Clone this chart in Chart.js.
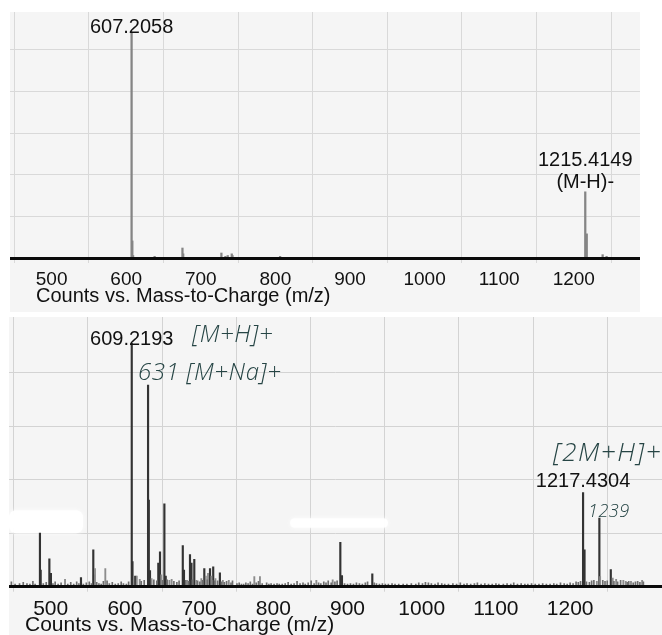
<!DOCTYPE html>
<html>
<head>
<meta charset="utf-8">
<script src="https://cdn.jsdelivr.net/npm/chart.js@4.4.1/dist/chart.umd.min.js"></script>
<style>
  html, body { margin: 0; padding: 0; background: #ffffff; }
  body { width: 662px; height: 635px; position: relative; overflow: hidden; }
  .panel { position: absolute; }
  #negWrap { left: 10px; top: 12px; width: 630px; height: 300px; }
  #posWrap { left: 9px; top: 317px; width: 653px; height: 318px; }
</style>
</head>
<body>
<div class="panel" id="negWrap"><canvas id="negChart"></canvas></div>
<div class="panel" id="posWrap"><canvas id="posChart"></canvas></div>
<script>
// ---- shared axis text ----
const axisCaption = 'Counts vs. Mass-to-Charge (m/z)';

// ---- negative-ion scan (upper trace) ----
const negMz  = [607.2058, 608.2, 609.2, 638.1, 675.4, 676.4, 727.6, 733.0, 736.1, 741.5, 742.5, 806.3, 1215.4149, 1217.4, 1238.7, 1244.0];
const negInt = [5.43,     0.41,  0.06,  0.04,  0.24,  0.10,  0.12,  0.04,  0.06,  0.10,  0.06,  0.04,  1.59,      0.58,   0.08,   0.04];
const negTicks = [500, 600, 700, 800, 900, 1000, 1100, 1200];
const negGridY = [1, 2, 3, 4, 5];

// ---- positive-ion scan (lower trace): strong peaks ----
const posMz  = [485.5, 486.5, 498.2, 500.3, 540.8, 557.4, 558.4, 609.2193, 610.2, 613.9, 631.2, 632.2, 633.8, 645.0, 647.3, 653.2, 655.0, 678.0, 679.6, 687.7, 689.7, 693.5, 707.0, 714.7, 719.0, 728.0, 890.3, 892.5, 933.4, 1217.4304, 1219.4, 1239.4, 1254.8];
const posInt = [1.00,  0.31,  0.52,  0.25,  0.17,  0.69,  0.22,  4.55,     0.47,  0.20,  3.77,  1.62,  0.30,  0.44,  0.65,  1.55,  0.20,  0.77,  0.31,  0.60,  0.44,  0.51,  0.34,  0.34,  0.37,  0.26,  0.83,  0.21,  0.24,  1.76,      0.69,   1.28,   0.32];

// ---- positive-ion scan: minor peaks ----
const minorMz  = [519.3, 559.7, 573.6, 616.0, 620.0, 636.0, 649.0, 660.0, 663.0, 684.0, 696.0, 703.0, 709.0, 712.0, 716.5, 722.0, 732.0, 740.0, 774.4, 782.0, 858.0, 880.0, 1236.0, 1240.4, 1257.4, 1262.0, 1271.7, 1275.0, 1282.0, 1297.0];
const minorInt = [0.14,  0.34,  0.34,  0.20,  0.14,  0.15,  0.22,  0.12,  0.14,  0.12,  0.12,  0.15,  0.20,  0.25,  0.20,  0.15,  0.12,  0.12,  0.19,  0.19,  0.12,  0.13,  0.10,   0.19,   0.16,   0.14,   0.12,   0.10,   0.10,   0.12];

// ---- positive-ion scan: baseline chatter ----
const noiseMz  = [447, 452, 458, 463, 468, 472, 476, 479, 490, 494, 503, 506, 510, 514, 523, 527, 531, 535, 538, 544, 548, 552, 555, 562, 565, 568, 571, 576, 579, 583, 587, 591, 595, 598, 602, 605, 622, 626, 639, 643, 651, 657, 666, 670, 673, 682, 686, 691, 698, 701, 705, 711, 718, 721, 725, 730, 734, 737, 743, 745, 751, 754, 757, 760, 763, 766, 769, 772, 777, 780, 785, 791, 794, 797, 801, 805, 808, 812, 816, 820, 824, 828, 832, 836, 840, 843, 847, 851, 855, 861, 864, 868, 871, 874, 878, 883, 886, 896, 900, 904, 908, 912, 916, 920, 924, 927, 936, 939, 943, 947, 951, 955, 960, 964, 969, 975, 980, 986, 992, 996, 1001, 1005, 1009, 1013, 1018, 1022, 1027, 1031, 1036, 1042, 1047, 1052, 1057, 1061, 1066, 1071, 1075, 1080, 1085, 1090, 1095, 1100, 1104, 1110, 1115, 1120, 1124, 1129, 1134, 1139, 1143, 1148, 1153, 1158, 1163, 1168, 1173, 1178, 1182, 1187, 1192, 1196, 1200, 1204, 1208, 1211, 1214, 1222, 1226, 1229, 1232, 1244, 1247, 1250, 1259, 1264, 1268, 1277, 1279, 1285, 1288, 1291, 1294, 1298.7];
const noiseInt = [0.09, 0.05, 0.06, 0.08, 0.06, 0.05, 0.10, 0.05, 0.06, 0.08, 0.06, 0.09, 0.05, 0.07, 0.05, 0.08, 0.05, 0.09, 0.06, 0.05, 0.07, 0.09, 0.06, 0.08, 0.06, 0.05, 0.10, 0.11, 0.06, 0.08, 0.05, 0.06, 0.09, 0.06, 0.05, 0.09, 0.10, 0.12, 0.13, 0.11, 0.12, 0.13, 0.10, 0.08, 0.11, 0.12, 0.10, 0.13, 0.11, 0.09, 0.12, 0.13, 0.12, 0.11, 0.11, 0.09, 0.08, 0.10, 0.07, 0.11, 0.06, 0.07, 0.05, 0.05, 0.07, 0.06, 0.09, 0.05, 0.07, 0.10, 0.06, 0.07, 0.05, 0.06, 0.05, 0.06, 0.05, 0.05, 0.06, 0.08, 0.05, 0.06, 0.10, 0.06, 0.07, 0.05, 0.07, 0.11, 0.06, 0.07, 0.06, 0.09, 0.07, 0.11, 0.07, 0.09, 0.11, 0.06, 0.05, 0.06, 0.05, 0.07, 0.06, 0.05, 0.07, 0.09, 0.07, 0.06, 0.05, 0.06, 0.05, 0.05, 0.06, 0.05, 0.05, 0.05, 0.05, 0.06, 0.05, 0.07, 0.06, 0.08, 0.07, 0.06, 0.05, 0.07, 0.06, 0.05, 0.05, 0.06, 0.05, 0.07, 0.05, 0.06, 0.05, 0.06, 0.07, 0.05, 0.06, 0.05, 0.05, 0.06, 0.05, 0.05, 0.06, 0.05, 0.07, 0.05, 0.06, 0.05, 0.05, 0.06, 0.05, 0.05, 0.06, 0.05, 0.05, 0.06, 0.05, 0.07, 0.06, 0.05, 0.07, 0.06, 0.09, 0.08, 0.10, 0.09, 0.08, 0.11, 0.12, 0.12, 0.10, 0.11, 0.10, 0.09, 0.12, 0.08, 0.10, 0.07, 0.09, 0.10, 0.08, 0.09];
const posTicks  = [500, 600, 700, 800, 900, 1000, 1100, 1200, 1300];
const posLabels = ['500', '600', '700', '800', '900', '1000', '1100', '1200', ''];
const posGridY  = [1, 2, 3, 4];

// ---- pen notes written onto the positive-ion print-out ----
const notes = [
  { text: '[M+H]+',      mz: 690.4,  at: 4.57, size: 24, spacing: 0.6 },
  { text: '631 [M+Na]+', mz: 617.7,  at: 3.86, size: 24, spacing: 0.6 },
  { text: '[2M+H]+',     mz: 1176.9, at: 2.35, size: 26, spacing: 1.5 },
  { text: '1239',        mz: 1224.1, at: 1.30, size: 18, spacing: 0.5 }
];

// correction-fluid patches on the lower print-out: [mzFrom, mzTo, yFrom, yTo]
const patches = [
  [443.8, 543.5, 1.00, 1.43],
  [822.5, 954.6, 1.10, 1.28]
];

const pts = (mz, v) => mz.map((m, i) => ({ x: m, y: v[i] }));

const panelBg = {
  id: 'panelBg',
  beforeDraw(chart, args, o) {
    const { ctx, width, height } = chart;
    ctx.save();
    ctx.fillStyle = o.color;
    ctx.fillRect(0, 0, width, height);
    ctx.restore();
  }
};

const whiteout = {
  id: 'whiteout',
  beforeDatasetsDraw(chart, args, o) {
    if (!o.items) return;
    const { ctx, scales: { x, y } } = chart;
    ctx.save();
    ctx.fillStyle = 'rgba(255,255,255,0.92)';
    ctx.shadowColor = 'rgba(255,255,255,0.9)';
    ctx.shadowBlur = 5;
    o.items.forEach(p => {
      const x0 = x.getPixelForValue(p[0]), x1 = x.getPixelForValue(p[1]);
      const y0 = y.getPixelForValue(p[3]), y1 = y.getPixelForValue(p[2]);
      ctx.beginPath();
      ctx.roundRect(x0, y0, x1 - x0, y1 - y0, 7);
      ctx.fill();
    });
    ctx.restore();
  }
};

const textMarks = {
  id: 'textMarks',
  afterDatasetsDraw(chart, args, o) {
    const { ctx, scales: { x, y } } = chart;
    ctx.save();
    ctx.textBaseline = 'alphabetic';
    (o.items || []).forEach(it => {
      ctx.font = it.font;
      ctx.fillStyle = it.color;
      ctx.textAlign = it.align;
      ctx.letterSpacing = (it.spacing || 0) + 'px';
      const px = x.getPixelForValue(it.mz);
      const py = y.getPixelForValue(it.at) + (it.dy || 0);
      const n = it.lines.length;
      it.lines.forEach((line, k) => {
        ctx.fillText(line, px, py - (n - 1 - k) * (it.lh || 0));
      });
    });
    ctx.restore();
  }
};

const caption = {
  id: 'caption',
  afterDraw(chart, args, o) {
    const { ctx, chartArea } = chart;
    ctx.save();
    ctx.font = o.font;
    ctx.fillStyle = o.color;
    ctx.textAlign = 'left';
    ctx.textBaseline = 'middle';
    ctx.fillText(o.text, chartArea.left + o.dx, chartArea.bottom + o.dy);
    ctx.restore();
  }
};

function makePanel(canvasId, cfg) {
  return new Chart(document.getElementById(canvasId), {
    type: 'bar',
    data: { datasets: cfg.datasets },
    options: {
      responsive: true,
      maintainAspectRatio: false,
      animation: false,
      devicePixelRatio: 1,
      layout: { padding: 0 },
      plugins: {
        legend: { display: false },
        tooltip: { enabled: false },
        panelBg: { color: '#f5f5f5' },
        whiteout: { items: cfg.patches },
        textMarks: { items: cfg.marks },
        caption: { text: axisCaption, font: cfg.captionFont, color: '#111111', dx: cfg.captionDx, dy: cfg.captionDy }
      },
      scales: {
        x: {
          type: 'linear',
          min: cfg.xMin,
          max: cfg.xMax,
          offset: false,
          afterBuildTicks: s => { s.ticks = cfg.ticks.map(v => ({ value: v })); },
          afterFit: s => { s.height = cfg.axisHeight; },
          ticks: {
            autoSkip: false,
            maxRotation: 0,
            padding: cfg.tickPad,
            color: '#111111',
            font: { family: '"Liberation Sans", Arial, sans-serif', size: cfg.tickSize },
            callback: (v, i) => cfg.tickLabels[i]
          },
          grid: { color: cfg.gridColor, lineWidth: 1, tickLength: 5, drawTicks: true },
          border: { display: true, color: '#0a0a0a', width: 3, z: 1 }
        },
        y: {
          min: 0,
          max: cfg.yMax,
          afterBuildTicks: s => { s.ticks = cfg.gridY.map(v => ({ value: v })); },
          afterFit: s => { s.width = 0; },
          ticks: { display: false },
          grid: { color: cfg.gridColor, lineWidth: 1, drawTicks: false },
          border: { display: false }
        }
      }
    },
    plugins: [panelBg, whiteout, textMarks, caption]
  });
}

const labelFont = '20px "Liberation Sans", Arial, sans-serif';
const penFont = size => `italic 300 ${size}px "Open Sans", "DejaVu Sans", sans-serif`;
const penInk = '#264545';

// upper panel: negative-ion spectrum
makePanel('negChart', {
  xMin: 444.2, xMax: 1288.8, yMax: 5.91,
  ticks: negTicks, tickLabels: negTicks.map(String), gridY: negGridY,
  axisHeight: 54, tickPad: 5, tickSize: 19,
  gridColor: '#d9d9d9',
  captionFont: '20px "Liberation Sans", Arial, sans-serif', captionDx: 26, captionDy: 38,
  datasets: [
    { data: pts(negMz, negInt), backgroundColor: '#858585', barThickness: 1.6, grouped: false, borderWidth: 0 }
  ],
  marks: [
    { mz: negMz[0], at: negInt[0], dy: 1, lines: [negMz[0].toFixed(4)], font: labelFont, color: '#111111', align: 'center' },
    { mz: negMz[12], at: negInt[12], dy: -4, lh: 22, lines: [negMz[12].toFixed(4), '(M-H)-'], font: labelFont, color: '#111111', align: 'center' }
  ]
});

// lower panel: positive-ion spectrum
makePanel('posChart', {
  xMin: 443.8, xMax: 1323.8, yMax: 5.04,
  ticks: posTicks, tickLabels: posLabels, gridY: posGridY,
  axisHeight: 48.3, tickPad: 5, tickSize: 21,
  gridColor: '#d3d3d3',
  captionFont: '21px "Liberation Sans", Arial, sans-serif', captionDx: 16, captionDy: 39,
  patches: patches,
  datasets: [
    { data: pts(noiseMz, noiseInt), backgroundColor: '#6e6e6e', barThickness: 1, grouped: false, borderWidth: 0 },
    { data: pts(minorMz, minorInt), backgroundColor: '#8c8c8c', barThickness: 1.2, grouped: false, borderWidth: 0 },
    { data: pts(posMz, posInt), backgroundColor: '#333333', barThickness: 1.5, grouped: false, borderWidth: 0 }
  ],
  marks: [
    { mz: posMz[7], at: posInt[7], dy: 2, lines: [posMz[7].toFixed(4)], font: labelFont, color: '#111111', align: 'center' },
    { mz: posMz[29], at: posInt[29], dy: -6, lines: [posMz[29].toFixed(4)], font: labelFont, color: '#111111', align: 'center' },
    ...notes.map(n => ({ mz: n.mz, at: n.at, lines: [n.text], font: penFont(n.size), color: penInk, align: 'left', spacing: n.spacing }))
  ]
});
</script>
</body>
</html>
